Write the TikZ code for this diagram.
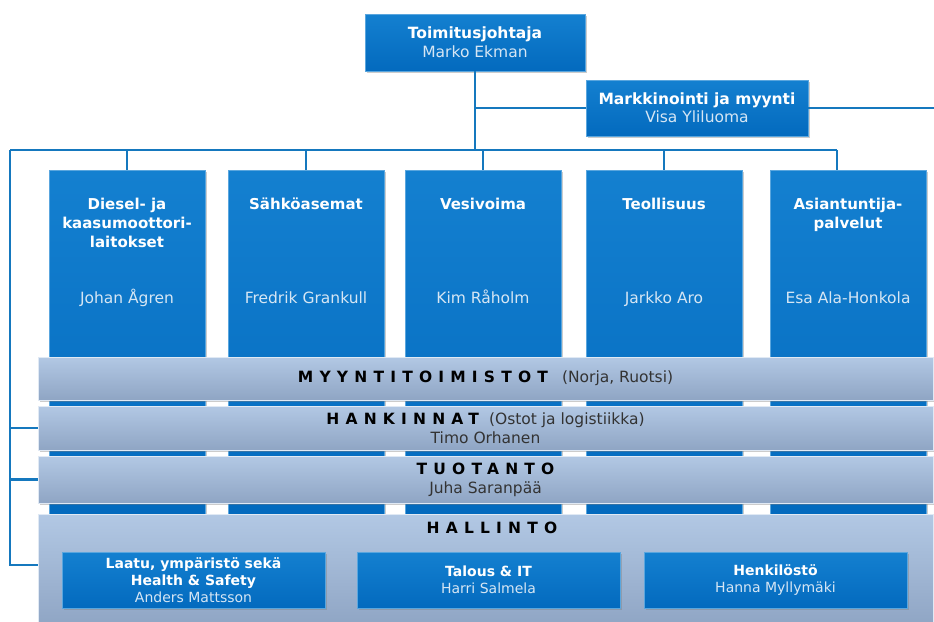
\documentclass[tikz,border=0pt]{standalone}
\usepackage{fontspec}
\setmainfont{DejaVu Sans}
\usetikzlibrary{shadows}
\definecolor{boxtop}{HTML}{1480D0}
\definecolor{boxbot}{HTML}{036ABE}
\definecolor{bandtop}{HTML}{B2C8E4}
\definecolor{bandbot}{HTML}{8FA5C4}
\definecolor{conn}{HTML}{1578BE}
\definecolor{nametext}{HTML}{D6E6F4}
\newcommand\spcd[1]{{\addfontfeature{LetterSpace=40}#1}}
\tikzset{
 connector/.style={draw=conn, line width=2.6pt},
 bluebox/.style={rectangle, top color=boxtop, bottom color=boxbot, draw=boxtop!70!white, line width=0.3pt,
   drop shadow={shadow xshift=1.5pt, shadow yshift=-1.5pt, opacity=0.4}, inner sep=0pt, align=center},
 band/.style={rectangle, top color=bandtop, bottom color=bandbot, draw=bandtop!40!white, line width=0.6pt,
   drop shadow={shadow xshift=1.5pt, shadow yshift=-1.5pt, opacity=0.4}, inner sep=0pt, minimum width=895pt, align=center,
   text=black!80, font=\fontsize{15.5}{19}\selectfont},
 ttl/.style={text=white, font=\fontsize{15}{19}\selectfont\bfseries, align=center, inner sep=0pt},
 nm/.style={text=nametext, font=\fontsize{15.5}{19}\selectfont, align=center, inner sep=0pt},
 topbox/.style={bluebox, minimum width=156pt, minimum height=346pt},
 subbox/.style={bluebox, minimum width=263pt, minimum height=56pt, font=\fontsize{14}{17}\selectfont},
}
\newcommand\capsb[1]{{\fontsize{15.5}{19}\selectfont\bfseries\color{black}\spcd{#1}}}
\begin{document}
\begin{tikzpicture}[x=1pt,y=-1pt]
\useasboundingbox (0,0) rectangle (934,621);
\fill[white] (0,0) rectangle (934,621);

% coordinates for connector ends
\coordinate (lt) at (10,150);
\coordinate (rt) at (837,150);
\coordinate (lb) at (10,565);
\coordinate (redge) at (934,0);
\coordinate (nmrow) at (0,297);

% top boxes
\node[bluebox, minimum width=220pt, minimum height=57pt, font=\fontsize{15.5}{19}\selectfont] (ceo) at (475,42.5)
  {\textcolor{white}{\bfseries Toimitusjohtaja}\\\textcolor{nametext}{Marko Ekman}};
\node[bluebox, minimum width=222pt, minimum height=56pt, font=\fontsize{15.5}{18}\selectfont] (mk) at (697,108)
  {\textcolor{white}{\bfseries Markkinointi ja myynti}\\\textcolor{nametext}{Visa Yliluoma}};

% connectors
\draw[connector] (ceo.south) -- (ceo.south |- lt);
\draw[connector] (ceo.south |- mk.west) -- (mk.west);
\draw[connector] (mk.east) -- (mk.east -| redge);
\draw[connector, line join=round] (lt) -- (rt);

% division boxes
\node[topbox] (d1) at (127,343) {};
\node[topbox] (d2) at (306,343) {};
\node[topbox] (d3) at (483,343) {};
\node[topbox] (d4) at (664,343) {};
\node[topbox] (d5) at (848,343) {};

\foreach \d in {d1,d2,d3,d4}{
  \draw[connector] (\d.north |- lt) -- (\d.north);
}
\draw[connector] (rt) -- (rt |- d5.north);

\node[ttl, anchor=north] (t1) at ([yshift=-28pt]d1.north) {Diesel- ja\\kaasumoottori-\\laitokset};
\node[ttl, anchor=north] (t2) at ([yshift=-28pt]d2.north) {Sähköasemat};
\node[ttl, anchor=north] (t3) at ([yshift=-28pt]d3.north) {Vesivoima};
\node[ttl, anchor=north] (t4) at ([yshift=-28pt]d4.north) {Teollisuus};
\node[ttl, anchor=north] (t5) at ([yshift=-28pt]d5.north) {Asiantuntija-\\palvelut};

\node[nm, anchor=base] (n1) at ([yshift=-6pt]d1 |- nmrow) {Johan Ågren};
\node[nm, anchor=base] (n2) at ([yshift=-6pt]d2 |- nmrow) {Fredrik Grankull};
\node[nm, anchor=base] (n3) at ([yshift=-6pt]d3 |- nmrow) {Kim Råholm};
\node[nm, anchor=base] (n4) at ([yshift=-6pt]d4 |- nmrow) {Jarkko Aro};
\node[nm, anchor=base] (n5) at ([yshift=-6pt]d5 |- nmrow) {Esa Ala-Honkola};

% bands
\node[band, minimum height=43pt] (myy) at (485.5,378.5)
  {\capsb{MYYNTITOIMISTOT}\hspace{14pt}(Norja, Ruotsi)};
\node[band, minimum height=44pt] (han) at (485.5,428)
  {\capsb{HANKINNAT}\hspace{10pt}(Ostot ja logistiikka)\\Timo Orhanen};
\node[band, minimum height=47pt] (tuo) at (485.5,479.5)
  {\capsb{TUOTANTO}\\Juha Saranpää};
\node[band, minimum height=112pt] (hal) at (485.5,570) {};
\node[inner sep=0pt] (halt) at (492,528) {\capsb{HALLINTO}};

% left connectors
\draw[connector] (lt) -- (lb) -- (lb -| hal.west);
\draw[connector] (han.west -| lt) -- (han.west);
\draw[connector] (tuo.west -| lt) -- (tuo.west);

% administration boxes
\node[subbox] (s1) at (193.5,580)
  {\textcolor{white}{\bfseries Laatu, ympäristö sekä}\\\textcolor{white}{\bfseries Health \& Safety}\\\textcolor{nametext}{Anders Mattsson}};
\node[subbox] (s2) at (488.5,580)
  {\textcolor{white}{\bfseries Talous \& IT}\\\textcolor{nametext}{Harri Salmela}};
\node[subbox] (s3) at (775.5,580)
  {\textcolor{white}{\bfseries Henkilöstö}\\\textcolor{nametext}{Hanna Myllymäki}};
\end{tikzpicture}
\end{document}
